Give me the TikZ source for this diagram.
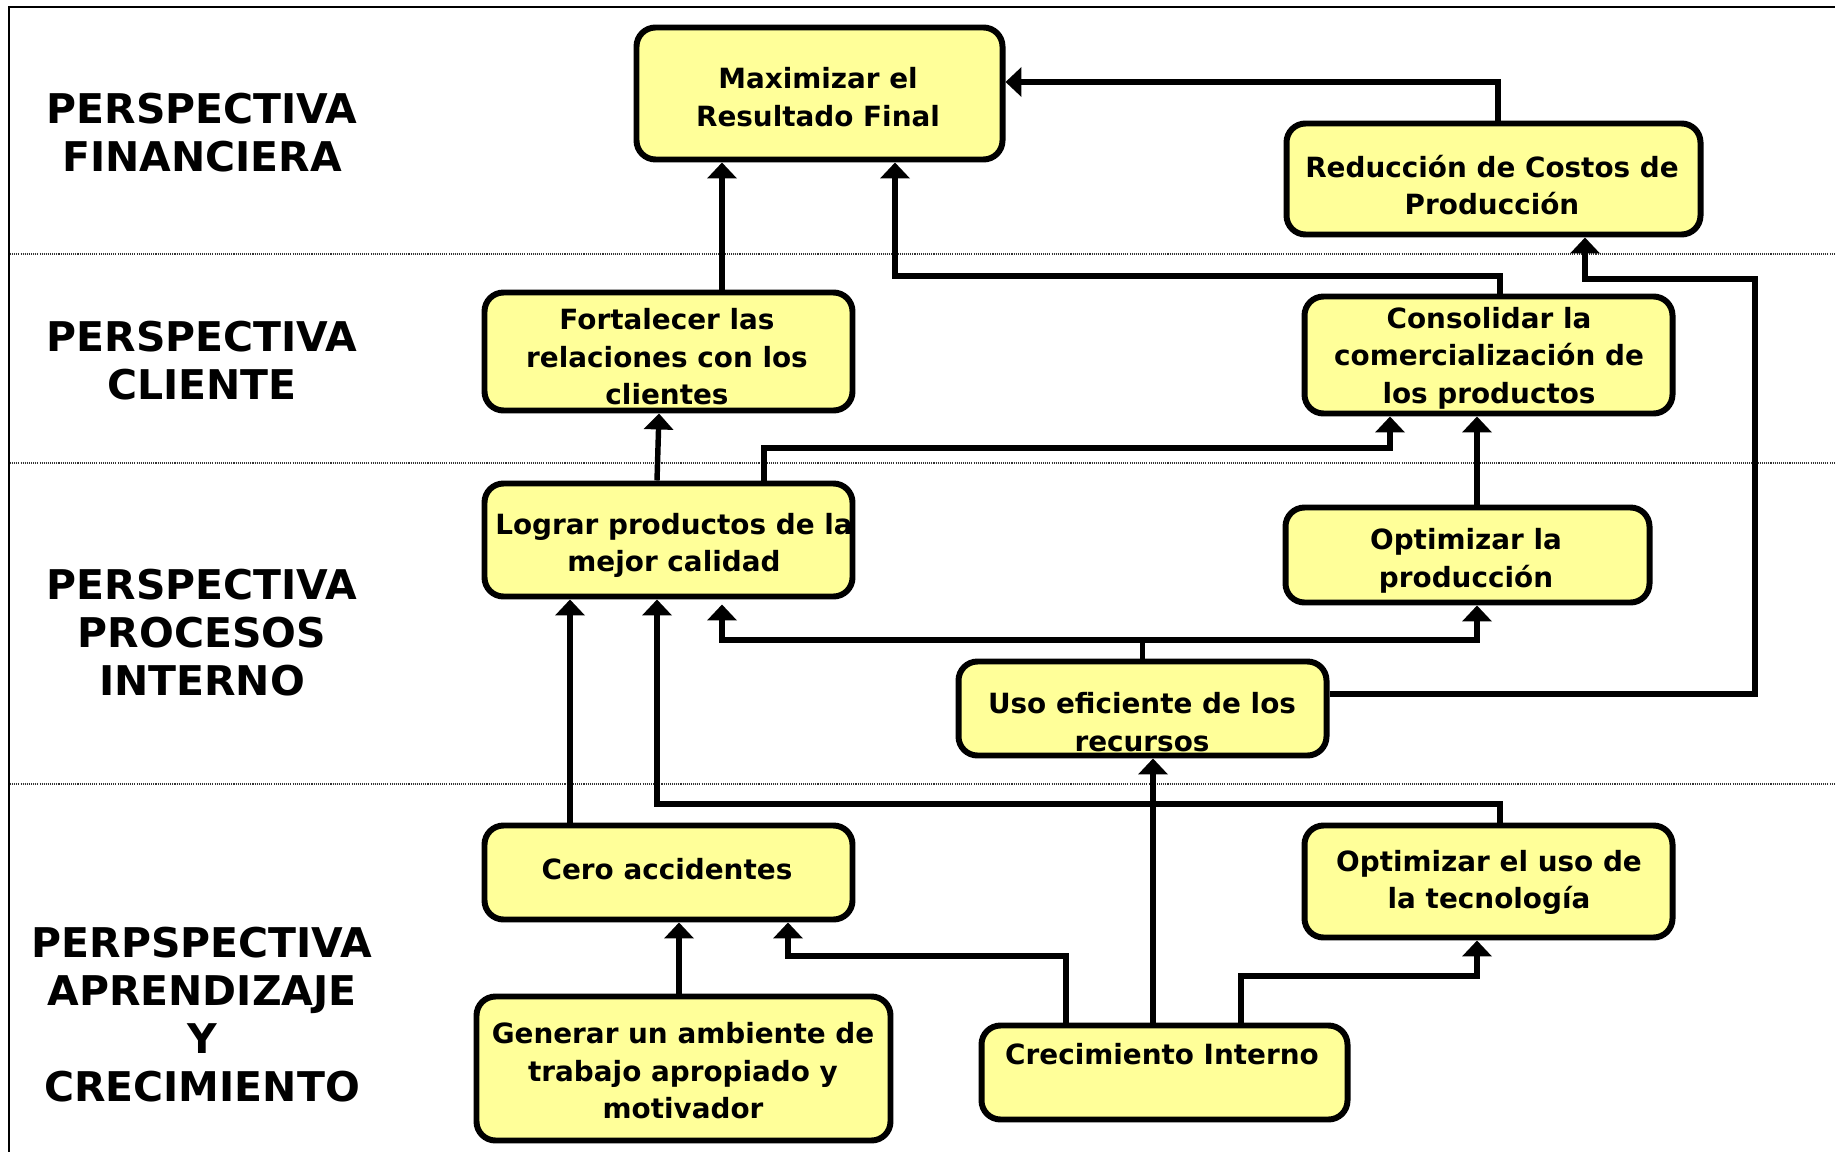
\documentclass[tikz,border=0pt]{standalone}
\usepackage{fontspec}
\setmainfont{DejaVu Sans}
\usetikzlibrary{arrows.meta}
\definecolor{boxyellow}{RGB}{255,255,153}
\begin{document}
\begin{tikzpicture}[x=0.02cm,y=-0.02cm,
  box/.style={draw=black, fill=boxyellow, line width=3.4pt, rounded corners=0.38cm, inner sep=0pt},
  bsize/.style 2 args={minimum width={(#1-3)*0.02cm}, minimum height={(#2-3)*0.02cm}},
  btext/.style={font=\fontsize{15.85}{21.3}\selectfont\bfseries, align=center, inner sep=0pt},
  head/.style={font=\fontsize{23.3}{27.3}\selectfont\bfseries, align=center, inner sep=0pt},
  conn/.style={line width=3.1pt, -{Triangle[width=0.58cm,length=0.32cm]}},
  sep/.style={line width=0.6pt, dash pattern=on 0.6pt off 0.6pt, black!80},
  frame/.style={line width=1.2pt}]
\useasboundingbox (0,0) rectangle (1835,1152);
% frame and separators
\coordinate (f1) at (9,1152);
\coordinate (f2) at (9,7);
\coordinate (f3) at (1835,7);
\draw[frame] (f1) -- (f2) -- (f3);
\coordinate (s1a) at (10,254);  \coordinate (s1b) at (1835,254);
\coordinate (s2a) at (10,463);  \coordinate (s2b) at (1835,463);
\coordinate (s3a) at (10,784);  \coordinate (s3b) at (1835,784);
\draw[sep] (s1a) -- (s1b);
\draw[sep] (s2a) -- (s2b);
\draw[sep] (s3a) -- (s3b);
% headings
\node[head] (h1) at (202,133) {PERSPECTIVA\\FINANCIERA};
\node[head] (h2) at (202,361) {PERSPECTIVA\\CLIENTE};
\node[head] (h3) at (202,633) {PERSPECTIVA\\PROCESOS\\INTERNO};
\node[head] (h4) at (202,1015) {PERPSPECTIVA\\APRENDIZAJE\\Y\\CRECIMIENTO};
% boxes
\node[box,bsize={369}{135}] (maxi) at (819.5,93.5) {};
\node[box,bsize={417}{114}] (red) at (1493.5,179) {};
\node[box,bsize={371}{121}] (fort) at (668.5,351.5) {};
\node[box,bsize={371}{120}] (cons) at (1488.5,355) {};
\node[box,bsize={371}{116}] (lograr) at (668.5,540) {};
\node[box,bsize={367}{98}] (optp) at (1467.5,555) {};
\node[box,bsize={371}{97}] (uso) at (1142.5,708.5) {};
\node[box,bsize={371}{97}] (cero) at (668.5,872.5) {};
\node[box,bsize={371}{115}] (optu) at (1488.5,881.5) {};
\node[box,bsize={417}{147}] (gen) at (683.5,1068.5) {};
\node[box,bsize={369}{97}] (crec) at (1164.5,1072.5) {};
% texts
\node[btext] (maxiT) at (818,97) {Maximizar el\\Resultado Final};
\node[btext] (redT) at (1492,185) {Reducción de Costos de\\Producción};
\node[btext] (fortT) at (667,357) {Fortalecer las\\relaciones con los\\clientes};
\node[btext] (consT) at (1489,358) {Consolidar la\\comercialización de\\los productos};
\node[btext] (lograrT) at (674,545.5) {Lograr productos de la\\mejor calidad};
\node[btext] (optpT) at (1466,561) {Optimizar la\\producción};
\node[btext] (usoT) at (1142,722) {Uso eficiente de los\\recursos};
\node[btext] (ceroT) at (667,869) {Cero accidentes};
\node[btext] (optuT) at (1489,882.5) {Optimizar el uso de\\la tecnología};
\node[btext] (genT) at (683,1071) {Generar un ambiente de\\trabajo apropiado y\\motivador};
\node[btext] (crecT) at (1162,1054) {Crecimiento Interno};
% connectors
\draw[conn] (722,0 |- fort.north) -- (722,0 |- maxi.south);
\draw[conn] (1500,0 |- cons.north) -- (1500,276) -- (895,276) -- (895,0 |- maxi.south);
\draw[conn] (1498,0 |- red.north) -- (1498,82) -- (maxi.east |- 0,82);
\draw[conn] (uso.east |- 0,694) -- (1755,694) -- (1755,279) -- (1585,279) -- (1585,0 |- red.south);
\draw[conn] (657,0 |- lograr.north) -- (659,0 |- fort.south);
\draw[conn] (764,0 |- lograr.north) -- (764,448) -- (1390,448) -- (1390,0 |- cons.south);
\draw[conn] (1477,0 |- optp.north) -- (1477,0 |- cons.south);
\draw[conn] (uso.north) -- (1142.5,640) -- (1477,640) -- (1477,0 |- optp.south);
\draw[conn, shorten >=0.1cm] (1142.5,640) -- (722,640) -- (722,0 |- lograr.south);
\draw[conn] (570,0 |- cero.north) -- (570,0 |- lograr.south);
\draw[conn] (1500,0 |- optu.north) -- (1500,804) -- (657,804) -- (657,0 |- lograr.south);
\draw[conn] (1153,0 |- crec.north) -- (1153,0 |- uso.south);
\draw[conn] (679,0 |- gen.north) -- (679,0 |- cero.south);
\draw[conn] (1066,0 |- crec.north) -- (1066,956) -- (788,956) -- (788,0 |- cero.south);
\draw[conn] (1241,0 |- crec.north) -- (1241,976) -- (1477,976) -- (1477,0 |- optu.south);
\end{tikzpicture}
\end{document}
